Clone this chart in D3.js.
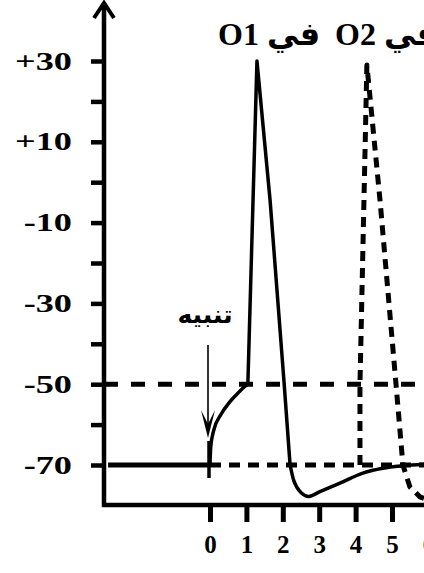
<!DOCTYPE html>
<html><head><meta charset="utf-8">
<script src="https://cdn.jsdelivr.net/npm/d3@7"></script>
<style>html,body{margin:0;padding:0;background:#fff;overflow:hidden}</style>
</head><body><svg id="c" width="424" height="573"></svg>
<script>
// ---- data ----
const timeTicks = [0, 1, 2, 3, 4, 5, 6];
const voltTicks = [-70, -60, -50, -40, -30, -20, -10, 0, 10, 20, 30];
const voltLabels = [-70, -50, -30, -10, 10, 30];
const titleO1 = "O1 في";
const titleO2 = "O2 في";
const stimLabel = "تنبيه";

const restTime = [-2.8, 0];
const restVolt = [-70, -70];
const riseTime = [0, 0.02, 0.1, 0.3, 0.55, 0.8, 0.95, 1.04];
const riseVolt = [-70, -65.5, -61.5, -57.5, -54.3, -51.9, -50.6, -50];
const spikeTime = [1.04, 1.29, 1.65, 2.03, 2.2];
const spikeVolt = [-50, 30, -4.4, -49, -70];
const afterTime = [2.2, 2.3, 2.38, 2.52, 2.7, 3.02, 3.57, 4.2, 4.75, 5.3, 5.95];
const afterVolt = [-70, -73.8, -75.4, -77, -77.8, -76.6, -74.5, -72, -70.8, -70.2, -69.8];
const o2Time = [4.12, 4.12, 4.31, 4.67, 5.11, 5.3, 5.49, 5.77, 5.95];
const o2Volt = [-70, -50, 29, -4.4, -50, -70, -75.4, -77.9, -78.5];
const thresholdVolt = -50;
const restingVolt = -70;
const stimTime = 0;

// ---- scales ----
const x = d3.scaleLinear().domain([0, 5]).range([210, 392]);
const y = d3.scaleLinear().domain([-70, 30]).range([465, 61]);
const svg = d3.select("#c");
const serif = "'Liberation Serif','Times New Roman',serif";
const zip = (a, b) => a.map((t, i) => [t, b[i]]);
const lineLin = d3.line().x(d => x(d[0])).y(d => y(d[1]));
const lineSmooth = d3.line().x(d => x(d[0])).y(d => y(d[1])).curve(d3.curveMonotoneX);

// dashed reference lines
svg.append("line").attr("x1", 104).attr("x2", 424)
  .attr("y1", y(thresholdVolt)).attr("y2", y(thresholdVolt))
  .attr("stroke", "#000").attr("stroke-width", 5).attr("stroke-dasharray", "14,13");
svg.append("line").attr("x1", x(stimTime)).attr("x2", 424)
  .attr("y1", y(restingVolt)).attr("y2", y(restingVolt))
  .attr("stroke", "#000").attr("stroke-width", 5).attr("stroke-dasharray", "11,8");

// O1 solid curve
svg.append("path").attr("d", lineLin(zip(restTime, restVolt)))
  .attr("fill", "none").attr("stroke", "#000").attr("stroke-width", 5);
[[lineSmooth, riseTime, riseVolt], [lineLin, spikeTime, spikeVolt], [lineSmooth, afterTime, afterVolt]]
  .forEach(([ln, t, v]) => {
    svg.append("path").attr("d", ln(zip(t, v)))
      .attr("fill", "none").attr("stroke", "#000").attr("stroke-width", 3.5)
      .attr("stroke-linejoin", "round").attr("stroke-linecap", "round");
  });

// O2 dashed curve
svg.append("path").attr("d", lineLin(zip(o2Time, o2Volt)))
  .attr("fill", "none").attr("stroke", "#000").attr("stroke-width", 5)
  .attr("stroke-dasharray", "10,7").attr("stroke-linejoin", "round");

// stimulus marker + arrow
svg.append("line").attr("x1", x(stimTime) - 1).attr("x2", x(stimTime) - 1)
  .attr("y1", 441).attr("y2", 478).attr("stroke", "#000").attr("stroke-width", 3.5);
svg.append("line").attr("x1", x(stimTime) - 2).attr("x2", x(stimTime) - 2)
  .attr("y1", 345).attr("y2", 425).attr("stroke", "#000").attr("stroke-width", 1.6);
svg.append("path")
  .attr("d", `M${x(stimTime) - 9},410 L${x(stimTime) - 2},438 L${x(stimTime) + 5},410 L${x(stimTime) - 2},424 Z`)
  .attr("fill", "#000");
svg.append("text").attr("x", 205).attr("y", 323).attr("text-anchor", "middle")
  .attr("font-family", "'DejaVu Sans',sans-serif").attr("font-weight", "bold")
  .attr("font-size", 25).text(stimLabel);

// y axis
const yAxis = d3.axisLeft(y).tickValues(voltTicks).tickSize(13)
  .tickFormat(v => voltLabels.includes(v) ? (v > 0 ? "+" + v : String(v)) : "");
const gy = svg.append("g").attr("transform", "translate(104,0)").call(yAxis);
gy.select(".domain").remove();
gy.selectAll(".tick line").attr("stroke", "#000").attr("stroke-width", 4.5);
gy.selectAll(".tick text").attr("x", 0).attr("dy", 0).attr("y", 8)
  .attr("transform", "translate(-32,0) scale(1.45,1)")
  .attr("font-family", serif).attr("font-weight", "bold").attr("font-size", 25)
  .attr("fill", "#000");

// x axis
const xAxis = d3.axisBottom(x).tickValues(timeTicks).tickSize(17).tickFormat(d3.format("d"));
const gx = svg.append("g").attr("transform", "translate(0,505)").call(xAxis);
gx.select(".domain").remove();
gx.selectAll(".tick line").attr("stroke", "#000").attr("stroke-width", 5);
gx.selectAll(".tick text").attr("y", 48).attr("dy", 0)
  .attr("font-family", serif).attr("font-weight", "bold").attr("font-size", 25)
  .attr("fill", "#000");

// axis lines with arrow
svg.append("path").attr("d", "M104,4 L104,505 L424,505")
  .attr("fill", "none").attr("stroke", "#000").attr("stroke-width", 4.5);
svg.append("path").attr("d", "M94,18 L104,3 L114,18")
  .attr("fill", "none").attr("stroke", "#000").attr("stroke-width", 4)
  .attr("stroke-linejoin", "miter");

// titles
[[titleO1, 218], [titleO2, 335]].forEach(([t, px]) => {
  svg.append("text").attr("x", px).attr("y", 45)
    .attr("font-family", serif + ",'DejaVu Sans'").attr("font-weight", "bold")
    .attr("font-size", 32).attr("fill", "#000").text(t);
});
</script></body></html>
